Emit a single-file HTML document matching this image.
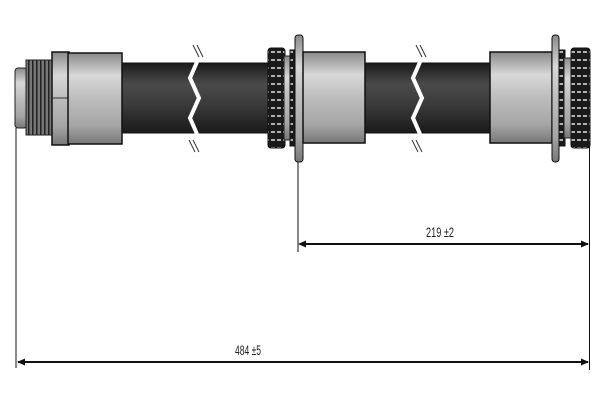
<!DOCTYPE html>
<html><head><style>
html,body{margin:0;padding:0;background:#fff;}
svg{display:block;}
text{font-family:"Liberation Sans",sans-serif;font-size:14px;fill:#222;}
</style></head><body>
<svg width="600" height="400" viewBox="0 0 600 400" xmlns="http://www.w3.org/2000/svg">
<defs>
<linearGradient id="met" x1="0" y1="0" x2="0" y2="1">
<stop offset="0" stop-color="#8a8a8a"/><stop offset="0.25" stop-color="#d8d8d8"/><stop offset="0.5" stop-color="#bdbdbd"/><stop offset="0.8" stop-color="#a5a5a5"/><stop offset="1" stop-color="#777"/>
</linearGradient>
<linearGradient id="hose" x1="0" y1="0" x2="0" y2="1">
<stop offset="0" stop-color="#1a1a1a"/><stop offset="0.3" stop-color="#4a4a4a"/><stop offset="0.6" stop-color="#3a3a3a"/><stop offset="1" stop-color="#1a1a1a"/>
</linearGradient>
<pattern id="knurl" x="0" y="0" width="6" height="8" patternUnits="userSpaceOnUse">
<rect width="6" height="8" fill="#1a1a1a"/><rect x="1" y="3" width="4" height="2" fill="#b0b0b0"/>
</pattern>
<pattern id="thread" x="0" y="0" width="4" height="10" patternUnits="userSpaceOnUse">
<rect width="4" height="10" fill="#777"/><rect x="0" width="1.5" height="10" fill="#222"/>
</pattern>
</defs>
<rect x="120" y="63" width="150" height="70" fill="url(#hose)" stroke="#111"/>
<rect x="364" y="63" width="128" height="70" fill="url(#hose)" stroke="#111"/>
<path d="M197 62 L190 78 L199 98 L190 118 L197 134" fill="none" stroke="#fff" stroke-width="4"/>
<path d="M193 45 L199 57 M197 45 L203 57 M193 140 L199 152 M189 140 L195 152" stroke="#333" stroke-width="1"/>
<path d="M420 62 L413 78 L422 98 L413 118 L420 134" fill="none" stroke="#fff" stroke-width="4"/>
<path d="M416 45 L422 57 M420 45 L426 57 M416 140 L422 152 M412 140 L418 152" stroke="#333" stroke-width="1"/>
<rect x="15" y="68" width="12" height="60" rx="3" fill="url(#met)" stroke="#222"/>
<rect x="26" y="60" width="27" height="75" fill="url(#thread)" stroke="#222"/>
<rect x="52" y="52" width="17" height="93" fill="url(#met)" stroke="#111" stroke-width="1.5"/>
<line x1="52" y1="98" x2="69" y2="98" stroke="#333"/>
<rect x="68" y="53" width="54" height="91" fill="url(#met)" stroke="#111" stroke-width="1.5"/>
<rect x="268" y="48" width="17" height="100" rx="3" fill="url(#knurl)" stroke="#111"/>
<rect x="284" y="56" width="7" height="84" fill="url(#met)" stroke="#222"/>
<rect x="290" y="50" width="6" height="96" fill="url(#knurl)" stroke="#111"/>
<rect x="295" y="35" width="8" height="127" rx="3" fill="url(#met)" stroke="#111"/>
<rect x="303" y="52" width="62" height="91" fill="url(#met)" stroke="#111" stroke-width="1.5"/>
<rect x="490" y="52" width="62" height="91" fill="url(#met)" stroke="#111" stroke-width="1.5"/>
<rect x="552" y="35" width="7" height="127" rx="3" fill="url(#met)" stroke="#111"/>
<rect x="559" y="50" width="6" height="96" fill="url(#knurl)" stroke="#111"/>
<rect x="564" y="58" width="8" height="80" fill="url(#met)" stroke="#222"/>
<rect x="571" y="48" width="19" height="100" rx="3" fill="url(#knurl)" stroke="#111"/>
<g stroke="#111" stroke-width="1">
<line x1="16" y1="128" x2="16" y2="368"/>
<line x1="298" y1="162" x2="298" y2="252"/>
<line x1="589.5" y1="145" x2="589.5" y2="370"/>
</g>
<g stroke="#111" stroke-width="2">
<line x1="300" y1="244" x2="588" y2="244"/>
<line x1="18" y1="362" x2="588" y2="362"/>
</g>
<path d="M298 244 l8 -3.5 v7z M589 244 l-8 -3.5 v7z M17 362 l8 -3.5 v7z M589 362 l-8 -3.5 v7z" fill="#111"/>
<text x="440" y="237" text-anchor="middle" textLength="28" lengthAdjust="spacingAndGlyphs">219 ±2</text>
<text x="248" y="355" text-anchor="middle" textLength="26" lengthAdjust="spacingAndGlyphs">484 ±5</text>
</svg>
</body></html>
